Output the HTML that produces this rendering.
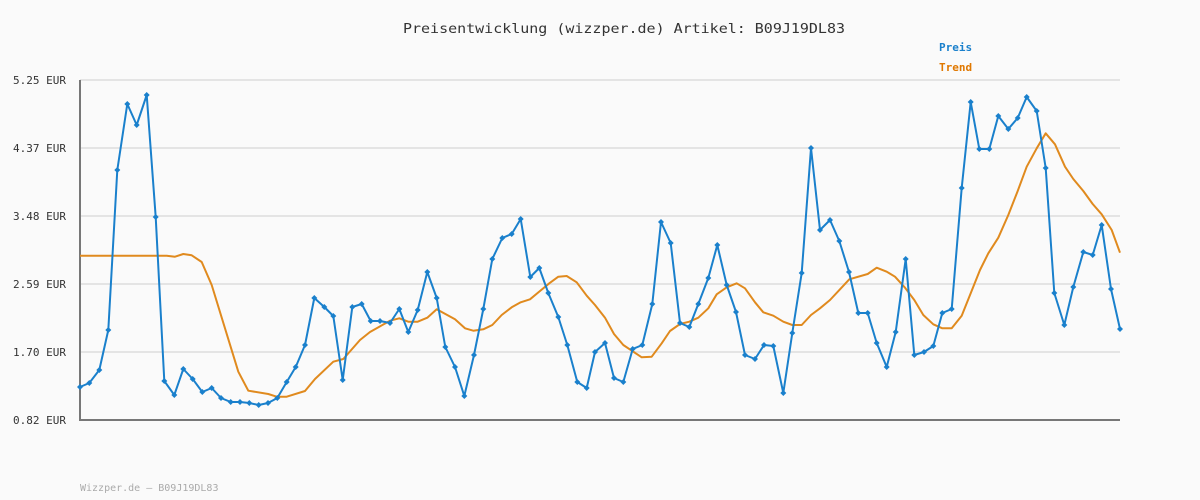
<!DOCTYPE html>
<html><head><meta charset="utf-8"><style>
html,body{margin:0;padding:0;background:#fafafa;}
svg{display:block;}
text{font-family:"DejaVu Sans Mono","Liberation Mono",monospace;}
</style></head><body>
<svg width="1200" height="500" viewBox="0 0 1200 500" xmlns="http://www.w3.org/2000/svg">
<defs>
<marker id="d" markerUnits="userSpaceOnUse" markerWidth="6" markerHeight="6" refX="3" refY="3" orient="0" overflow="visible">
<path d="M3,0 L6,3 L3,6 L0,3Z" fill="#1a80cc"/>
</marker>
</defs>
<rect width="1200" height="500" fill="#fafafa"/>
<text x="403" y="33" font-size="13.5" textLength="442" lengthAdjust="spacingAndGlyphs" fill="#333">Preisentwicklung (wizzper.de) Artikel: B09J19DL83</text>
<text x="939" y="51" font-size="11" font-weight="bold" fill="#1a80cc">Preis</text>
<text x="939" y="71" font-size="11" font-weight="bold" fill="#e07800">Trend</text>
<g stroke="#e4e4e4" stroke-width="2">
<line x1="80" y1="80" x2="1120" y2="80"/><line x1="80" y1="148" x2="1120" y2="148"/>
<line x1="80" y1="216" x2="1120" y2="216"/><line x1="80" y1="284" x2="1120" y2="284"/>
<line x1="80" y1="352" x2="1120" y2="352"/>
</g>
<g font-size="11" fill="#333" text-anchor="end">
<text x="66" y="84">5.25 EUR</text><text x="66" y="152">4.37 EUR</text>
<text x="66" y="220">3.48 EUR</text><text x="66" y="288">2.59 EUR</text>
<text x="66" y="356">1.70 EUR</text><text x="66" y="424">0.82 EUR</text>
</g>
<line x1="80" y1="80" x2="80" y2="421" stroke="#777" stroke-width="2"/>
<line x1="79" y1="420" x2="1120" y2="420" stroke="#777" stroke-width="2"/>
<polyline fill="none" stroke="#e08a1e" stroke-width="2" stroke-linejoin="round" points="80,255.7 166.7,255.7 175,256.7 183.3,254 191.7,255.3 201.7,262 211.7,285 238.3,371.7 248.3,390.7 268.3,394 276.7,396.7 286.7,396.7 305,391 315,379 333.3,361.7 343.3,359 360,340 370,332 390,320.7 399.3,318.3 408.3,321.7 417.7,321.7 427.3,317.7 436.7,309.3 455,319.3 465,328.3 473.3,330.7 483.3,329.3 492.3,325 501.7,315 511.7,307.3 520.7,302.3 530,299.3 540,291 549.3,283.3 558.3,276.7 566.7,276 576.7,282.3 586.7,295.7 595,305 605,317.7 614,334 623.3,345 633.3,351.7 641.7,357.3 651.7,356.7 661.7,343.3 670,331 680,324 689.3,321.7 698.3,317.7 708.3,308.3 716.7,294.3 726.7,287.3 736.7,283.3 745,288.3 755,302.3 763.3,312.3 773.3,315.7 783.3,321.7 792.3,325 801.7,325 811,315 820,308.3 830,300 840,289.3 849.3,279.3 867.7,274 876.7,267.7 886.7,271.7 895,276.7 905,287.7 914.3,300 923.3,315 933.3,324.3 942.3,328.3 951.7,328.3 961.7,315.7 970.7,293.3 980,270 988.3,253.3 998.3,237.7 1008.3,215 1017.7,191 1026.7,166.7 1036.7,148.3 1045.7,133.3 1055,144.3 1065,166.7 1073.3,179 1083.3,191 1092.7,204 1101.7,214.3 1111.7,230 1120,252.7"/>
<polyline fill="none" stroke="#1a80cc" stroke-width="2" stroke-linejoin="round" marker-start="url(#d)" marker-mid="url(#d)" marker-end="url(#d)" points="80,387 89.3,383 99.3,370 108.3,330 117.3,170 127.3,104 136.7,125 146.7,95 155.7,217 164.3,381 174.3,395 183.3,369 192.7,379 202.3,392 211.7,388 221,398 230.7,402 240,402 249.3,403 258.7,405 268,403 277.3,398 286.7,382 295.7,367 305,345 314.3,298 324.3,307 333.3,316 342.7,380 352.3,307 361.7,304 370.7,321 380,321 390,323 399.3,309 408.3,332 417.7,310 427.3,272 436.7,298 445.3,347 455,367 464.3,396 474,355 483.3,309 492.3,259 502.3,238 511.7,234 520.7,219 530.3,277 539.3,268 548.3,293 558.3,317 567.3,345 577.3,382 586.7,388 595,352 605,343 614,378 623.3,382 632.7,349 642.3,345 652.3,304 661,222 670.7,243 680,323 689.3,327 698.3,304 708.3,278 717.3,245 726.7,285 736,312 745,355 755,359 764,345 773.3,346 783.3,393 792.3,333 801.7,273 811,148 820,230 830,220 839.3,241 849,272 858.3,313 867.7,313 876.7,343 886.7,367 895.7,332 905.7,259 914.3,355 924,352 933.3,346 942.3,313 951.7,309 961.7,188 970.7,102 979.3,149 989.3,149 998.3,116 1008.3,129 1017.7,118 1026.7,97 1036.7,111 1045.7,168 1054.3,293 1064.3,325 1073.3,287 1083.3,252 1092.7,255 1101.7,225 1111,289 1120,329"/>
<text x="80" y="491" font-size="10" fill="#aaa">Wizzper.de – B09J19DL83</text>
</svg>
</body></html>
